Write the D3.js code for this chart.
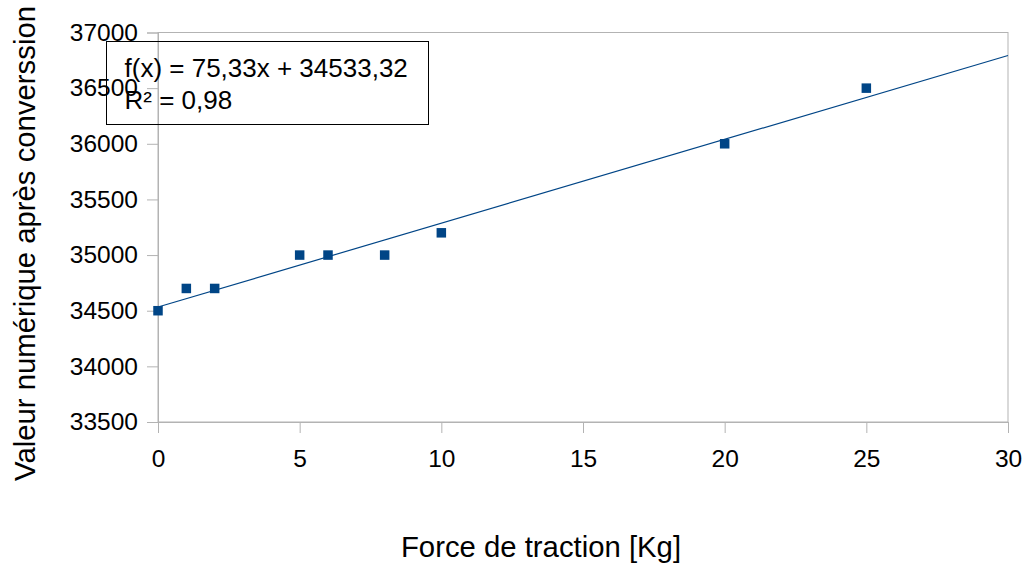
<!DOCTYPE html>
<html>
<head>
<meta charset="utf-8">
<script src="https://cdn.jsdelivr.net/npm/d3@7"></script>
<style>
    body { margin: 0; background: white; }
    svg { font-family: "Liberation Sans", Arial, sans-serif; }
</style>
</head>
<body>
<div id="chart"></div>
<script>
// mesures (force en Kg, valeur numérique)
const forces = [0, 1, 2, 5, 6, 8, 10, 20, 25];
const valeurs = [34500, 34700, 34700, 35000, 35000, 35000, 35200, 36000, 36500];
const xTicks = [0, 5, 10, 15, 20, 25, 30];
const yTicks = [33500, 34000, 34500, 35000, 35500, 36000, 36500, 37000];
// droite de régression affichée par le tableur
const pente = 75.33;
const ordonnee = 34533.32;
const equation = ["f(x) = 75,33x + 34533,32", "R² = 0,98"];

const width = 1027, height = 568;
const plot = {left: 158, right: 1008, top: 32.5, bottom: 422};
const axisColor = "#b3b3b3";
const seriesColor = "#004586";

const svg = d3.select("#chart").append("svg")
    .attr("width", width)
    .attr("height", height);

const x = d3.scaleLinear().domain([0, 30]).range([plot.left, plot.right]);
const y = d3.scaleLinear().domain([33500, 37000]).range([plot.bottom, plot.top]);

// cadre
svg.append("rect")
    .attr("x", plot.left)
    .attr("y", plot.top)
    .attr("width", plot.right - plot.left)
    .attr("height", plot.bottom - plot.top)
    .style("fill", "none")
    .style("stroke", axisColor)
    .style("stroke-width", 1);

const xAxis = svg.append("g")
    .attr("transform", "translate(0," + plot.bottom + ")")
    .call(d3.axisBottom(x).tickValues(xTicks).tickSize(11).tickPadding(17).tickFormat(d3.format("d")));
const yAxis = svg.append("g")
    .attr("transform", "translate(" + plot.left + ",0)")
    .call(d3.axisLeft(y).tickValues(yTicks).tickSize(11).tickPadding(9).tickFormat(d3.format("d")));

for (const g of [xAxis, yAxis]) {
    g.select(".domain").style("stroke", axisColor);
    g.selectAll(".tick line").style("stroke", axisColor);
    g.selectAll(".tick text")
        .style("font-family", "Liberation Sans, Arial, sans-serif")
        .style("font-size", "24.5px")
        .style("fill", "#000");
}

// tendance
svg.append("line")
    .attr("x1", x(0))
    .attr("y1", y(ordonnee))
    .attr("x2", x(30))
    .attr("y2", y(ordonnee + pente*30))
    .style("stroke", seriesColor)
    .style("stroke-width", 1.2);

svg.append("g").selectAll("rect")
    .data(forces)
    .enter().append("rect")
    .attr("x", (d)=>x(d) - 4.75)
    .attr("y", (d, i)=>y(valeurs[i]) - 4.75)
    .attr("width", 9.5)
    .attr("height", 9.5)
    .style("fill", seriesColor);

// boîte de l'équation
svg.append("rect")
    .attr("x", 106.5)
    .attr("y", 41.5)
    .attr("width", 322)
    .attr("height", 83)
    .style("fill", "none")
    .style("stroke", "#000")
    .style("stroke-width", 1);

svg.append("g").selectAll("text")
    .data(equation)
    .enter().append("text")
    .attr("x", 124.5)
    .attr("y", (d, i)=>77 + i*32)
    .style("font-size", "26px")
    .text((d)=>d);

svg.append("text")
    .attr("x", 541)
    .attr("y", 557)
    .attr("text-anchor", "middle")
    .style("font-size", "29.3px")
    .text("Force de traction [Kg]");

svg.append("text")
    .attr("transform", "translate(35,243.5) rotate(-90)")
    .attr("text-anchor", "middle")
    .style("font-size", "29.3px")
    .text("Valeur numérique après converssion");
</script>
</body>
</html>
